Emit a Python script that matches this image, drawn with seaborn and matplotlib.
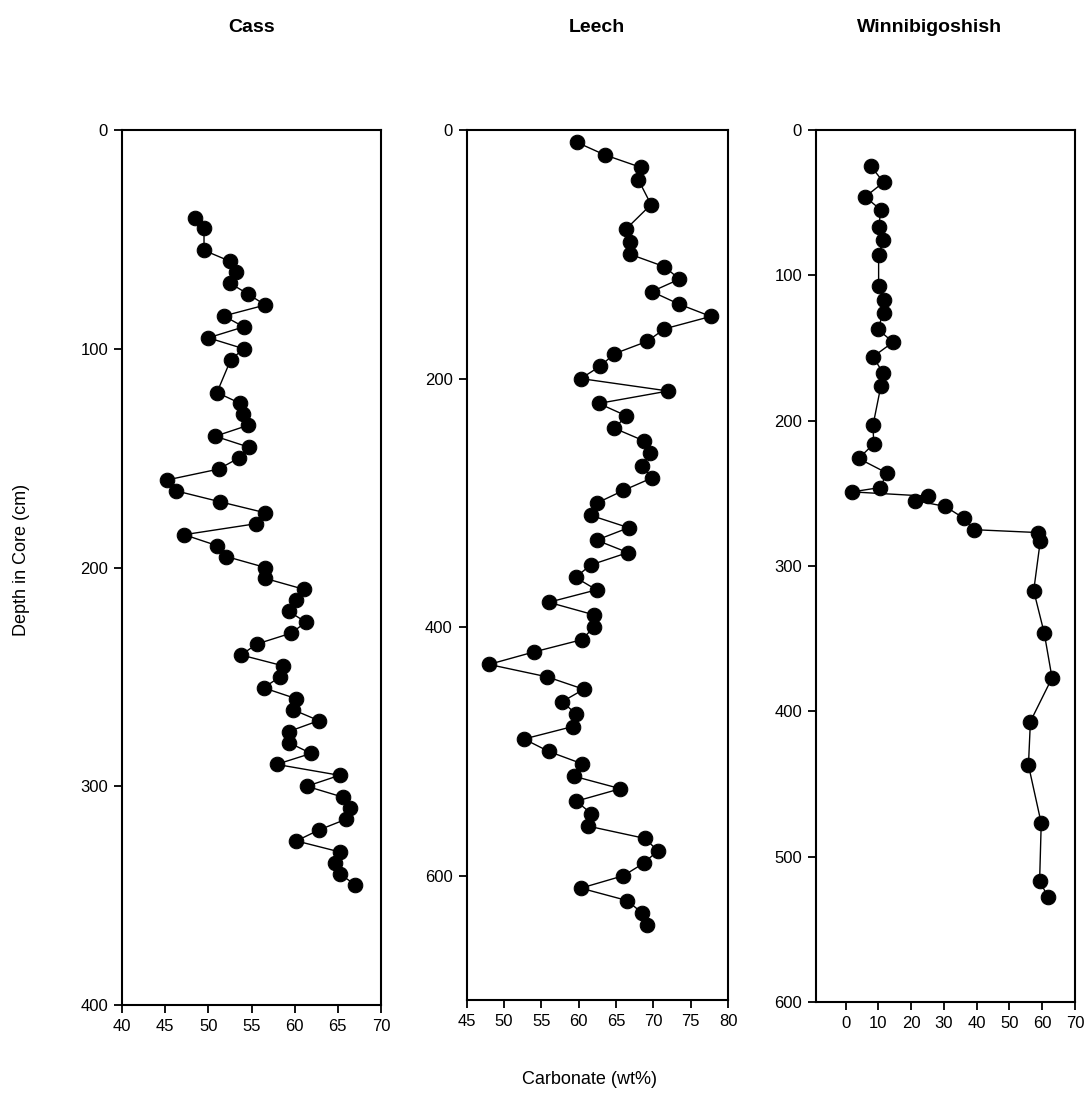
import matplotlib
matplotlib.use("Agg")
import matplotlib.pyplot as plt
import seaborn as sns
import pandas as pd

# ---------------- data ----------------
cass_depth = [40, 45, 55, 60, 65, 70, 75, 80, 85, 90, 95, 100, 105, 120, 125, 130,
              135, 140, 145, 150, 155, 160, 165, 170, 175, 180, 185, 190, 195, 200,
              205, 210, 215, 220, 225, 230, 235, 240, 245, 250, 255, 260, 265, 270,
              275, 280, 285, 290, 295, 300, 305, 310, 315, 320, 325, 330, 335, 340, 345]
cass_carb = [48.5, 49.5, 49.5, 52.5, 53.2, 52.5, 54.6, 56.6, 51.8, 54.1, 50.0, 54.1, 52.6,
             51.0, 53.7, 54.0, 54.6, 50.8, 54.7, 53.5, 51.2, 45.2, 46.3, 51.4, 56.6, 55.5,
             47.2, 51.0, 52.1, 56.6, 56.6, 61.1, 60.2, 59.3, 61.3, 59.6, 55.6, 53.8, 58.7,
             58.3, 56.4, 60.2, 59.8, 62.8, 59.3, 59.3, 61.9, 57.9, 65.2, 61.4, 65.6, 66.4,
             66.0, 62.8, 60.2, 65.2, 64.7, 65.2, 67.0]

leech_depth = [10, 20, 30, 40, 60, 80, 90, 100, 110, 120, 130, 140, 150, 160, 170, 180,
               190, 200, 210, 220, 230, 240, 250, 260, 270, 280, 290, 300, 310, 320, 330,
               340, 350, 360, 370, 380, 390, 400, 410, 420, 430, 440, 450, 460, 470, 480,
               490, 500, 510, 520, 530, 540, 550, 560, 570, 580, 590, 600, 610, 620, 630, 640]
leech_carb = [59.8, 63.5, 68.3, 68.0, 69.7, 66.3, 66.9, 66.9, 71.5, 73.5, 69.8, 73.4, 77.7,
              71.5, 69.2, 64.8, 62.9, 60.3, 72.0, 62.7, 66.4, 64.8, 68.7, 69.6, 68.5, 69.8,
              66.0, 62.5, 61.6, 66.7, 62.4, 66.6, 61.6, 59.6, 62.4, 56.0, 62.0, 62.0, 60.5,
              54.0, 48.0, 55.8, 60.7, 57.8, 59.7, 59.2, 52.7, 56.0, 60.5, 59.4, 65.6, 59.7,
              61.7, 61.2, 68.9, 70.6, 68.7, 66.0, 60.3, 66.5, 68.5, 69.2]

winn_depth = [25, 36, 46, 55, 67, 76, 86, 107, 117, 126, 137, 146, 156, 167, 176, 203,
              216, 226, 236, 246, 249, 252, 255, 259, 267, 275, 277, 283, 317, 346, 377,
              407, 437, 477, 517, 528]
winn_carb = [7.8, 11.6, 6.0, 10.8, 10.1, 11.4, 10.1, 10.1, 11.8, 11.6, 9.8, 14.5, 8.4,
             11.4, 10.8, 8.4, 8.6, 4.0, 12.6, 10.6, 2.0, 25.3, 21.3, 30.4, 36.0, 39.1,
             58.8, 59.4, 57.4, 60.6, 63.0, 56.4, 55.8, 59.7, 59.2, 61.9]

titles = ["Cass", "Leech", "Winnibigoshish"]
xlims = [(40, 70), (45, 80), (-9, 70)]
xticks = [[40, 45, 50, 55, 60, 65, 70],
          [45, 50, 55, 60, 65, 70, 75, 80],
          [0, 10, 20, 30, 40, 50, 60, 70]]
ylims = [(400, 0), (700, 0), (600, 0)]
yticks = [[0, 100, 200, 300, 400],
          [0, 200, 400, 600],
          [0, 100, 200, 300, 400, 500, 600]]

# ---------------- plot ----------------
sns.set_theme(style="ticks")
plt.rcParams['font.family'] = ['Liberation Sans', 'DejaVu Sans']
plt.rcParams['text.color'] = 'black'
plt.rcParams['axes.labelcolor'] = 'black'

fig = plt.figure(figsize=(10.88, 11.02), dpi=100)
W, H = 1088, 1102
boxes = [(122, 381, 130, 1005), (466.5, 728, 130, 1000), (816, 1075, 130, 1002)]
datasets = [(cass_carb, cass_depth), (leech_carb, leech_depth), (winn_carb, winn_depth)]
title_x = [252, 597, 930]

for i, ((l, r, t, b), (xv, yv)) in enumerate(zip(boxes, datasets)):
    ax = fig.add_axes([l / W, 1 - b / H, (r - l) / W, (b - t) / H])
    df = pd.DataFrame({"carb": xv, "depth": yv})
    sns.lineplot(data=df, x="carb", y="depth", sort=False, estimator=None,
                 color="black", linewidth=1.0, marker="o", markersize=10.5,
                 markeredgecolor="black", markerfacecolor="black", ax=ax)
    ax.set_xlim(*xlims[i])
    ax.set_ylim(*ylims[i])
    ax.set_xticks(xticks[i])
    ax.set_yticks(yticks[i])
    ax.set_xlabel("")
    ax.set_ylabel("")
    for s in ax.spines.values():
        s.set_visible(True)
        s.set_color("black")
        s.set_linewidth(1.5)
    ax.tick_params(direction="out", length=6, width=1.3, colors="black",
                   labelcolor="black", labelsize=12, pad=4)
    ax.set_facecolor("white")
    fig.text(title_x[i] / W, 1 - 28 / H, titles[i], ha="center", va="center",
             fontsize=14, fontweight="bold", color="black")

fig.text(22 / W, 1 - 560 / H, "Depth in Core (cm)", rotation=90,
         ha="center", va="center", fontsize=13, color="black")
fig.text(590 / W, 1 - 1080 / H, "Carbonate (wt%)", ha="center", va="center",
         fontsize=13, color="black")

fig.savefig("out.png", dpi=100, facecolor="white")
